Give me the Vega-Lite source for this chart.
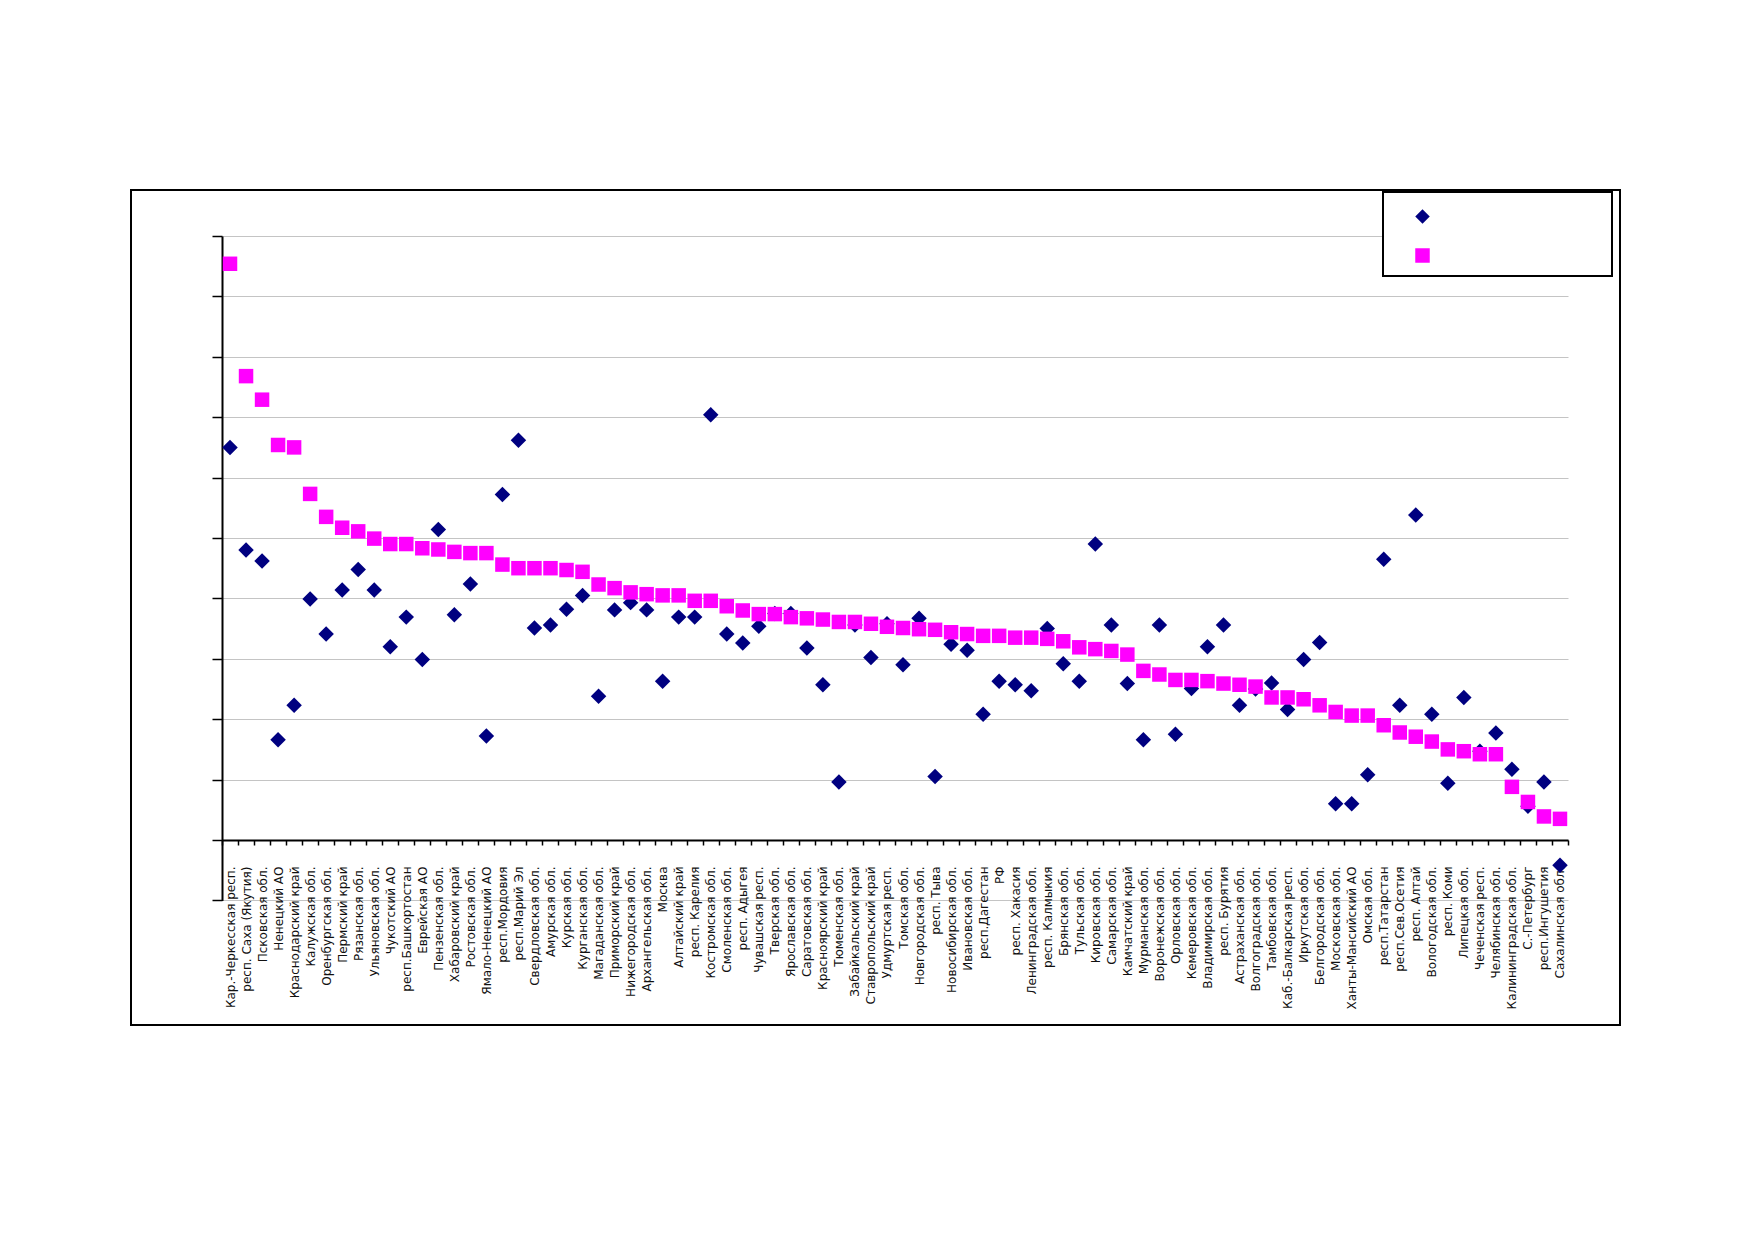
{
  "$schema": "https://vega.github.io/schema/vega-lite/v6.json",
  "width": 1489,
  "height": 835,
  "autosize": "none",
  "padding": {"left": 131, "top": 190, "right": 132, "bottom": 214},
  "background": "white",
  "data": {
    "values": [
      {"r": "Кар.-Черкесская респ.", "a": 6.50, "b": 9.54},
      {"r": "респ. Саха (Якутия)", "a": 4.80, "b": 7.68},
      {"r": "Псковская обл.", "a": 4.62, "b": 7.29},
      {"r": "Ненецкий АО", "a": 1.66, "b": 6.54},
      {"r": "Краснодарский край", "a": 2.23, "b": 6.50},
      {"r": "Калужская обл.", "a": 3.99, "b": 5.73},
      {"r": "Оренбургская обл.", "a": 3.41, "b": 5.35},
      {"r": "Пермский край", "a": 4.14, "b": 5.17},
      {"r": "Рязанская обл.", "a": 4.48, "b": 5.11},
      {"r": "Ульяновская обл.", "a": 4.14, "b": 4.99},
      {"r": "Чукотский АО", "a": 3.20, "b": 4.90},
      {"r": "респ.Башкортостан", "a": 3.69, "b": 4.90},
      {"r": "Еврейская АО", "a": 2.99, "b": 4.83},
      {"r": "Пензенская обл.", "a": 5.14, "b": 4.81},
      {"r": "Хабаровский край", "a": 3.73, "b": 4.77},
      {"r": "Ростовская обл.", "a": 4.24, "b": 4.75},
      {"r": "Ямало-Ненецкий АО", "a": 1.72, "b": 4.75},
      {"r": "респ.Мордовия", "a": 5.72, "b": 4.56},
      {"r": "респ.Марий Эл", "a": 6.62, "b": 4.50},
      {"r": "Свердловская обл.", "a": 3.51, "b": 4.50},
      {"r": "Амурская обл.", "a": 3.56, "b": 4.50},
      {"r": "Курская обл.", "a": 3.82, "b": 4.47},
      {"r": "Курганская обл.", "a": 4.05, "b": 4.44},
      {"r": "Магаданская обл.", "a": 2.38, "b": 4.23},
      {"r": "Приморский край", "a": 3.81, "b": 4.17},
      {"r": "Нижегородская обл.", "a": 3.93, "b": 4.10},
      {"r": "Архангельская обл.", "a": 3.81, "b": 4.07},
      {"r": "Москва", "a": 2.63, "b": 4.05},
      {"r": "Алтайский край", "a": 3.69, "b": 4.05},
      {"r": "респ. Карелия", "a": 3.69, "b": 3.96},
      {"r": "Костромская обл.", "a": 7.04, "b": 3.96},
      {"r": "Смоленская обл.", "a": 3.41, "b": 3.87},
      {"r": "респ. Адыгея", "a": 3.26, "b": 3.80},
      {"r": "Чувашская респ.", "a": 3.54, "b": 3.74},
      {"r": "Тверская обл.", "a": 3.75, "b": 3.74},
      {"r": "Ярославская обл.", "a": 3.75, "b": 3.69},
      {"r": "Саратовская обл.", "a": 3.18, "b": 3.67},
      {"r": "Красноярский край", "a": 2.57, "b": 3.65},
      {"r": "Тюменская обл.", "a": 0.96, "b": 3.61},
      {"r": "Забайкальский край", "a": 3.56, "b": 3.61},
      {"r": "Ставропольский край", "a": 3.02, "b": 3.58},
      {"r": "Удмуртская респ.", "a": 3.58, "b": 3.53},
      {"r": "Томская обл.", "a": 2.90, "b": 3.51},
      {"r": "Новгородская обл.", "a": 3.67, "b": 3.49},
      {"r": "респ. Тыва", "a": 1.05, "b": 3.48},
      {"r": "Новосибирская обл.", "a": 3.24, "b": 3.44},
      {"r": "Ивановская обл.", "a": 3.14, "b": 3.41},
      {"r": "респ.Дагестан", "a": 2.08, "b": 3.38},
      {"r": "РФ", "a": 2.63, "b": 3.38},
      {"r": "респ. Хакасия", "a": 2.57, "b": 3.35},
      {"r": "Ленинградская обл.", "a": 2.47, "b": 3.35},
      {"r": "респ. Калмыкия", "a": 3.50, "b": 3.33},
      {"r": "Брянская обл.", "a": 2.92, "b": 3.29},
      {"r": "Тульская обл.", "a": 2.63, "b": 3.19},
      {"r": "Кировская обл.", "a": 4.90, "b": 3.16},
      {"r": "Самарская обл.", "a": 3.56, "b": 3.13},
      {"r": "Камчатский край", "a": 2.59, "b": 3.07},
      {"r": "Мурманская обл.", "a": 1.66, "b": 2.80},
      {"r": "Воронежская обл.", "a": 3.56, "b": 2.74},
      {"r": "Орловская обл.", "a": 1.75, "b": 2.65},
      {"r": "Кемеровская обл.", "a": 2.51, "b": 2.65},
      {"r": "Владимирская обл.", "a": 3.20, "b": 2.63},
      {"r": "респ. Бурятия", "a": 3.56, "b": 2.59},
      {"r": "Астраханская обл.", "a": 2.23, "b": 2.57},
      {"r": "Волгоградская обл.", "a": 2.50, "b": 2.54},
      {"r": "Тамбовская обл.", "a": 2.60, "b": 2.36},
      {"r": "Каб.-Балкарская респ.", "a": 2.16, "b": 2.36},
      {"r": "Иркутская обл.", "a": 2.99, "b": 2.33},
      {"r": "Белгородская обл.", "a": 3.27, "b": 2.23},
      {"r": "Московская обл.", "a": 0.60, "b": 2.12},
      {"r": "Ханты-Мансийский АО", "a": 0.60, "b": 2.06},
      {"r": "Омская обл.", "a": 1.08, "b": 2.06},
      {"r": "респ.Татарстан", "a": 4.65, "b": 1.90},
      {"r": "респ.Сев.Осетия", "a": 2.23, "b": 1.78},
      {"r": "респ. Алтай", "a": 5.38, "b": 1.71},
      {"r": "Вологодская обл.", "a": 2.08, "b": 1.63},
      {"r": "респ. Коми", "a": 0.94, "b": 1.50},
      {"r": "Липецкая обл.", "a": 2.36, "b": 1.47},
      {"r": "Чеченская респ.", "a": 1.47, "b": 1.42},
      {"r": "Челябинская обл.", "a": 1.77, "b": 1.42},
      {"r": "Калининградская обл.", "a": 1.17, "b": 0.88},
      {"r": "С.-Петербург", "a": 0.56, "b": 0.63},
      {"r": "респ.Ингушетия", "a": 0.96, "b": 0.39},
      {"r": "Сахалинская обл.", "a": -0.42, "b": 0.35}
    ]
  },
  "encoding": {
    "x": {
      "field": "r",
      "type": "nominal",
      "sort": null,
      "title": null,
      "scale": {"type": "band", "range": [91, 1437], "paddingInner": 0, "paddingOuter": 0},
      "axis": {
        "orient": "bottom",
        "offset": -185,
        "tickBand": "extent",
        "tickSize": 5,
        "tickColor": "black",
        "tickWidth": 1.5,
        "domainColor": "black",
        "domainWidth": 2,
        "labelAngle": 270,
        "labelPadding": 21,
        "labelFont": "DejaVu Sans",
        "labelFontSize": 12,
        "labelColor": "#111111",
        "labelLimit": 300,
        "grid": false
      }
    }
  },
  "layer": [
    {
      "mark": {"type": "point", "filled": true, "opacity": 1, "size": 240, "strokeWidth": 0},
      "encoding": {
        "y": {
          "field": "a",
          "type": "quantitative",
          "title": null,
          "scale": {"domain": [-1, 10], "range": [710.4, 46], "nice": false, "zero": false},
          "axis": {
            "offset": -91,
            "values": [-1, 0, 1, 2, 3, 4, 5, 6, 7, 8, 9, 10],
            "labels": false,
            "tickSize": 10,
            "tickColor": "black",
            "tickWidth": 1.5,
            "domainColor": "black",
            "domainWidth": 2,
            "grid": true,
            "gridColor": "#c4c4c4",
            "gridWidth": 1
          }
        },
        "color": {
          "datum": "ряд 1",
          "type": "nominal",
          "scale": {"domain": ["ряд 1", "ряд 2"], "range": ["#000080", "#FF00FF"]},
          "legend": {
            "title": ".",
            "titleFontSize": 2,
            "titlePadding": 2,
            "titleOpacity": 0,
            "orient": "none",
            "legendX": 1252,
            "legendY": 2,
            "padding": 13,
            "symbolOffset": 19,
            "symbolSize": 210,
            "symbolStrokeWidth": 0,
            "rowPadding": 24,
            "labelFont": "Liberation Sans",
            "labelFontSize": 12.75,
            "labelOffset": 5,
            "labelOpacity": 0,
            "labelLimit": 300,
            "labelExpr": "'_______________________'",
            "strokeColor": "black",
            "fillColor": "white"
          }
        },
        "shape": {
          "datum": "ряд 1",
          "type": "nominal",
          "scale": {"domain": ["ряд 1", "ряд 2"], "range": ["diamond", "square"]},
          "legend": null
        }
      }
    },
    {
      "mark": {"type": "point", "filled": true, "opacity": 1, "size": 210, "strokeWidth": 0},
      "encoding": {
        "y": {"field": "b", "type": "quantitative"},
        "color": {"datum": "ряд 2", "type": "nominal"},
        "shape": {"datum": "ряд 2", "type": "nominal"}
      }
    }
  ],
  "config": {
    "view": {"stroke": "black", "strokeWidth": 2, "fill": "white"},
    "legend": {"strokeWidth": 2}
  }
}
